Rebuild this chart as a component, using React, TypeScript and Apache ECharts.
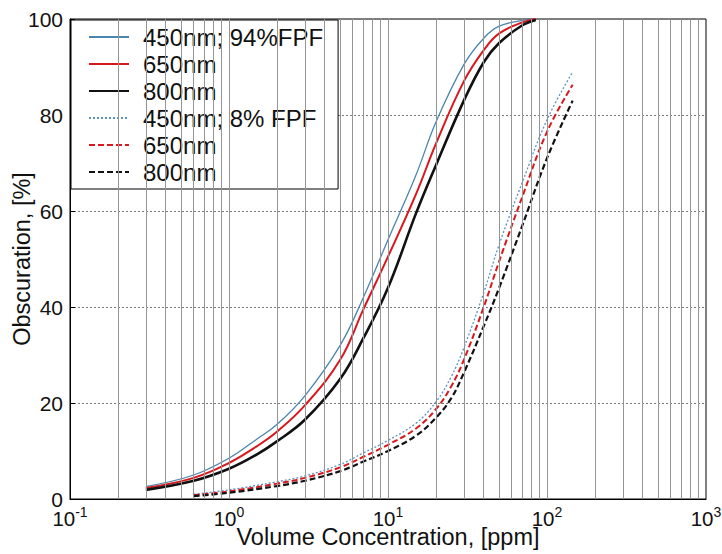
import React, { useEffect, useRef } from 'react';
import * as echarts from 'echarts';

// Solid curves (94% FPF)
const xSolid = [0.3, 0.6, 1, 1.5, 2, 3, 5, 7, 10, 15, 20, 30, 40, 50, 70, 85];
const solid450 = [2.6, 5.0, 8.5, 12.5, 15.5, 21.5, 32, 42, 54, 67.5, 78.5, 90.5, 96, 98.5, 99.7, 100];
const solid650 = [2.3, 4.4, 7.5, 11, 14, 19.5, 29, 39.5, 50.5, 63.5, 74, 87, 93.5, 97, 99.3, 100];
const solid800 = [1.9, 3.8, 6.3, 9.3, 12, 16.5, 25, 33.5, 44, 59.5, 69.5, 83, 91, 95, 98.7, 99.8];

// Dashed curves (8% FPF)
const xDashed = [0.6, 1, 2, 3, 5, 7, 10, 15, 20, 25, 30, 40, 50, 70, 100, 145];
const dashed450 = [1.0, 1.9, 3.6, 4.8, 7.2, 9.6, 12.2, 15.8, 20.2, 25.5, 31.5, 43, 53, 66, 79, 89];
const dashed650 = [0.8, 1.6, 3.2, 4.4, 6.6, 8.8, 11.3, 14.7, 18.7, 23.5, 29, 40, 49.5, 63, 76.5, 86.3];
const dashed800 = [0.6, 1.3, 2.7, 3.8, 5.8, 7.8, 10.0, 13.2, 16.9, 21, 26.3, 36, 44, 57, 71, 83];

// Vertical grid positions (log decades 0.1..1000)
const gridX = [
  0.2, 0.3, 0.4, 0.5, 0.6, 0.7, 0.8, 0.9, 1,
  2, 3, 4, 5, 6, 7, 8, 9, 10,
  20, 30, 40, 50, 60, 70, 80, 90, 100,
  200, 300, 400, 500, 600, 700, 800, 900,
];

const legendLabels: Record<string, string> = {
  s450a: '450nm; 94%FPF',
  s650a: '650nm',
  s800a: '800nm',
  s450b: '450nm; 8% FPF',
  s650b: '650nm',
  s800b: '800nm',
};

const FONT = '"Liberation Sans", Arial, Helvetica, sans-serif';

const pair = (xs: number[], ys: number[]) => xs.map((x, i) => [x, ys[i]]);

export default function App() {
  const ref = useRef<HTMLDivElement>(null);

  useEffect(() => {
    if (!ref.current) return;
    const chart = echarts.init(ref.current, undefined, { renderer: 'svg' });

    const mk = (name: string, xs: number[], ys: number[], color: string, width: number, type: any) => ({
      name,
      type: 'line',
      data: pair(xs, ys),
      showSymbol: false,
      symbol: 'none',
      smooth: 0.4,
      lineStyle: { color, width, type },
      itemStyle: { color },
      z: 3,
    });

    chart.setOption({
      animation: false,
      backgroundColor: '#ffffff',
      textStyle: { fontFamily: FONT, color: '#000' },
      grid: {
        left: 70,
        right: 16,
        top: 19,
        bottom: 55,
        containLabel: false,
        outerBoundsMode: 'none',
        show: true,
        borderColor: '#000',
        borderWidth: 1,
        backgroundColor: 'transparent',
      },
      legend: {
        show: true,
        orient: 'vertical',
        left: 71,
        top: 20,
        data: ['s450a', 's650a', 's800a', 's450b', 's650b', 's800b'],
        formatter: (n: string) => legendLabels[n],
        itemWidth: 40,
        itemHeight: 14,
        itemGap: 3,
        padding: [5, 15, 5, 17],
        backgroundColor: '#ffffff',
        borderColor: '#000',
        borderWidth: 1,
        borderRadius: 0,
        itemStyle: { opacity: 0 },
        textStyle: { fontFamily: FONT, fontSize: 24, color: '#111', padding: [0, 0, 0, 9], lineHeight: 23 },
      },
      xAxis: {
        type: 'log',
        logBase: 10,
        min: 0.1,
        max: 1000,
        name: 'Volume Concentration, [ppm]',
        nameLocation: 'middle',
        nameGap: 26,
        nameMoveOverlap: false,
        nameTextStyle: { fontFamily: FONT, fontSize: 23.5, color: '#111' },
        axisLine: { show: true, lineStyle: { color: '#000' } },
        axisTick: { show: false },
        splitLine: { show: false },
        axisLabel: {
          margin: 8,
          formatter: (v: number) => `{b|10}{s|${Math.round(Math.log10(v))}}`,
          rich: {
            b: { fontFamily: FONT, fontSize: 20.5, color: '#111', lineHeight: 22 },
            s: { fontFamily: FONT, fontSize: 14, color: '#111', lineHeight: 14, padding: [0, 0, 12, 0] },
          },
        },
      },
      yAxis: {
        type: 'value',
        min: 0,
        max: 100,
        interval: 20,
        name: 'Obscuration, [%]',
        nameLocation: 'middle',
        nameGap: 36,
        nameMoveOverlap: false,
        nameTextStyle: { fontFamily: FONT, fontSize: 23.5, color: '#111' },
        axisLine: { show: true, lineStyle: { color: '#000' } },
        axisTick: { show: true, inside: true, length: 5, lineStyle: { color: '#000' } },
        axisLabel: { fontFamily: FONT, fontSize: 21, color: '#111', margin: 7 },
        splitLine: { show: true, lineStyle: { color: '#7a7a7a', type: [2, 2], width: 1 } },
      },
      series: [
        {
          name: 'grid',
          type: 'line',
          data: [],
          silent: true,
          z: 1,
          markLine: {
            silent: true,
            symbol: 'none',
            label: { show: false },
            animation: false,
            lineStyle: { color: '#959595', type: 'solid', width: 1 },
            data: gridX.map((x) => ({ xAxis: x })),
          },
        },
        mk('s450a', xSolid, solid450, '#4a86ad', 1.3, 'solid'),
        mk('s650a', xSolid, solid650, '#d8181c', 2, 'solid'),
        mk('s800a', xSolid, solid800, '#111111', 2.6, 'solid'),
        mk('s450b', xDashed, dashed450, '#5a92c0', 1.3, [2, 2]),
        mk('s650b', xDashed, dashed650, '#d8181c', 2, [6, 3]),
        mk('s800b', xDashed, dashed800, '#111111', 2.2, [6, 3]),
      ],
    });

    return () => chart.dispose();
  }, []);

  return (
    <div
      ref={ref}
      style={{ position: 'fixed', left: 0, top: 0, width: 722, height: 554, background: '#fff' }}
    />
  );
}
